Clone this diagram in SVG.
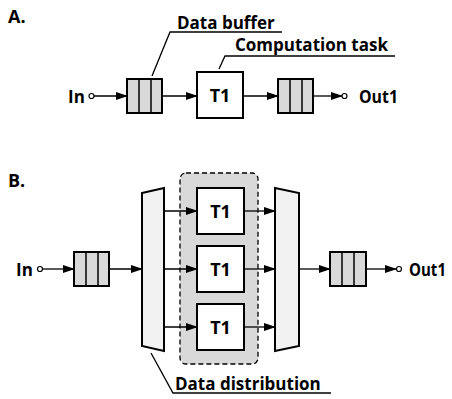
<svg xmlns="http://www.w3.org/2000/svg" width="452" height="399" viewBox="0 0 452 399">
<defs>
<marker id="ah" markerUnits="userSpaceOnUse" markerWidth="12" markerHeight="8" refX="11" refY="4" orient="auto">
<path d="M0,0 L12,4 L0,8 Z" fill="#000"/>
</marker>
<style>
text{font-family:"Open Sans","DejaVu Sans",sans-serif;font-weight:bold;fill:#000}
.lbl{font-size:17px}
.hd{font-size:18px}
.t{font-size:18px;text-anchor:middle}
.buf{fill:#d9d9d9;stroke:#000;stroke-width:2}
.div{stroke:#000;stroke-width:1.5}
.task{fill:#fff;stroke:#000;stroke-width:2}
.conn{stroke:#000;stroke-width:1.3;fill:none}
.arr{stroke:#000;stroke-width:1.3;fill:none;marker-end:url(#ah)}
.port{fill:#fff;stroke:#000;stroke-width:1.2}
.mux{fill:#f2f2f2;stroke:#000;stroke-width:2}
.grp{fill:#d9d9d9;stroke:#000;stroke-width:1.3;stroke-dasharray:5,3}
</style>
</defs>
<text class="hd" x="8" y="23">A.</text>
<text class="hd" x="8" y="187">B.</text>
<g id="connectors">
<line class="arr" x1="94" y1="96" x2="127" y2="96"/>
<line class="arr" x1="162" y1="96" x2="197" y2="96"/>
<line class="arr" x1="243" y1="96" x2="278" y2="96"/>
<line class="arr" x1="313" y1="96" x2="342" y2="96"/>
<polyline class="conn" points="152,76 170,32 282,32"/>
<polyline class="conn" points="219,69 225,56 395,56"/>
<line class="arr" x1="43" y1="269" x2="74" y2="269"/>
<line class="arr" x1="109" y1="269" x2="142" y2="269"/>
<line class="arr" x1="299" y1="269" x2="330" y2="269"/>
<line class="arr" x1="366" y1="269" x2="396" y2="269"/>
<polyline class="conn" points="151,353 173,393 331,393"/>
</g>
<g id="a-in"><text class="lbl" x="68" y="102.5">In</text><circle class="port" cx="91.5" cy="96" r="2.5"/></g>
<g id="a-buf1"><rect class="buf" x="127" y="79" width="35" height="34"/><line class="div" x1="139" y1="79" x2="139" y2="113"/><line class="div" x1="151" y1="79" x2="151" y2="113"/></g>
<g id="a-t1"><rect class="task" x="197" y="72" width="46" height="46"/><text class="t" x="220" y="102">T1</text></g>
<g id="a-buf2"><rect class="buf" x="278" y="79" width="35" height="34"/><line class="div" x1="290" y1="79" x2="290" y2="113"/><line class="div" x1="302" y1="79" x2="302" y2="113"/></g>
<g id="a-out"><circle class="port" cx="344.5" cy="96" r="2.5"/><text class="lbl" x="359" y="102.5" textLength="39" lengthAdjust="spacingAndGlyphs">Out1</text></g>
<g id="label-buffer"><text class="lbl" x="177" y="29">Data buffer</text></g>
<g id="label-task"><text class="lbl" x="235" y="51">Computation task</text></g>
<g id="b-in"><text class="lbl" x="16" y="275.5">In</text><circle class="port" cx="40" cy="269" r="2.5"/></g>
<g id="b-buf1"><rect class="buf" x="74" y="252" width="35" height="34"/><line class="div" x1="86" y1="252" x2="86" y2="286"/><line class="div" x1="98" y1="252" x2="98" y2="286"/></g>
<g id="b-demux"><polygon class="mux" points="142,193 164,188 164,351 142,346"/></g>
<g id="b-group"><rect class="grp" x="180" y="173" width="78" height="191" rx="6"/></g>
<g id="b-t1a"><rect class="task" x="197" y="188" width="47" height="46"/><text class="t" x="220.5" y="218">T1</text></g>
<g id="b-t1b"><rect class="task" x="197" y="246" width="47" height="46"/><text class="t" x="220.5" y="276">T1</text></g>
<g id="b-t1c"><rect class="task" x="197" y="304" width="47" height="46"/><text class="t" x="220.5" y="334">T1</text></g>
<g id="b-fan">
<line class="arr" x1="164" y1="211" x2="197" y2="211"/>
<line class="arr" x1="164" y1="269" x2="197" y2="269"/>
<line class="arr" x1="164" y1="327" x2="197" y2="327"/>
<line class="arr" x1="244" y1="211" x2="275" y2="211"/>
<line class="arr" x1="244" y1="269" x2="275" y2="269"/>
<line class="arr" x1="244" y1="327" x2="275" y2="327"/>
</g>
<g id="b-mux"><polygon class="mux" points="275,188 299,193 299,346 275,351"/></g>
<g id="b-buf2"><rect class="buf" x="330" y="252" width="36" height="34"/><line class="div" x1="342" y1="252" x2="342" y2="286"/><line class="div" x1="354" y1="252" x2="354" y2="286"/></g>
<g id="b-out"><circle class="port" cx="399" cy="269" r="2.5"/><text class="lbl" x="409" y="275.5" textLength="37" lengthAdjust="spacingAndGlyphs">Out1</text></g>
<g id="label-dist"><text class="lbl" x="175" y="390">Data distribution</text></g>
</svg>
